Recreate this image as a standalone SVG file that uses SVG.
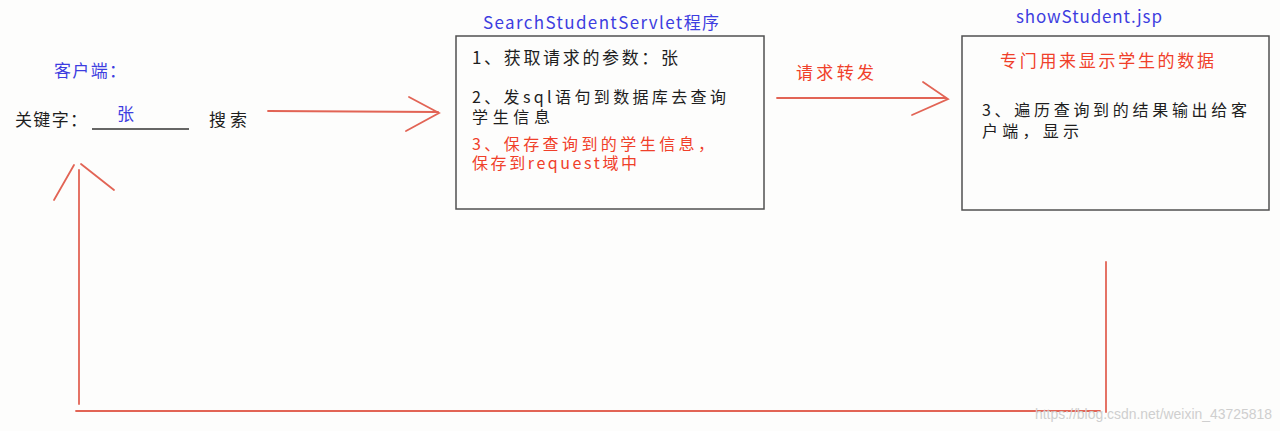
<svg xmlns="http://www.w3.org/2000/svg" width="1280" height="431" viewBox="0 0 1280 431">
<style>
text{font-family:"Noto Sans CJK SC","Liberation Sans",sans-serif;font-size:17px}
.tight{font-size:16px}
.blue{fill:#3d3de0}
.red{fill:#f0402a}
.black{fill:#1e1e1e}
.box{fill:none;stroke:#505050;stroke-width:1.5}
.conn{stroke:#e26455;stroke-width:1.8;fill:none;stroke-linecap:round}
.wm{font-family:"Liberation Sans",sans-serif;font-size:14px;fill:#cfcfcf}
</style>
<rect width="1280" height="431" fill="#fdfdfc"/>
<g id="client">
<text class="blue" x="54" y="77" textLength="72" lengthAdjust="spacing">客户端：</text>
<text class="black" x="15" y="126" textLength="72" lengthAdjust="spacing">关键字：</text>
<line x1="92" y1="129" x2="189" y2="129" stroke="#333" stroke-width="1.5"/>
<text class="blue" x="117" y="120">张</text>
<text class="black" x="209" y="126" textLength="38" lengthAdjust="spacing">搜索</text>
</g>
<g id="servlet">
<text class="blue" x="483" y="29" textLength="236" lengthAdjust="spacing">SearchStudentServlet程序</text>
<rect class="box" x="456" y="36" width="308" height="173"/>
<text class="black" x="472" y="64" textLength="206" lengthAdjust="spacing">1、获取请求的参数：张</text>
<text class="black tight" x="472" y="103" textLength="254" lengthAdjust="spacing">2、发sql语句到数据库去查询</text>
<text class="black tight" x="472" y="123" textLength="78" lengthAdjust="spacing">学生信息</text>
<text class="red tight" x="472" y="150" textLength="242" lengthAdjust="spacing">3、保存查询到的学生信息，</text>
<text class="red tight" x="472" y="169" textLength="165" lengthAdjust="spacing">保存到request域中</text>
</g>
<g id="jsp">
<text class="blue" x="1016" y="23" textLength="146" lengthAdjust="spacing">showStudent.jsp</text>
<rect class="box" x="962" y="36" width="307" height="174"/>
<text class="red" x="1000" y="67" textLength="214" lengthAdjust="spacing">专门用来显示学生的数据</text>
<text class="black tight" x="982" y="116" textLength="265" lengthAdjust="spacing">3、遍历查询到的结果输出给客</text>
<text class="black tight" x="982" y="137" textLength="97" lengthAdjust="spacing">户端，显示</text>
</g>
<g id="connectors">
<g id="search-request">
<line class="conn" x1="268" y1="111" x2="438" y2="112"/>
<polyline class="conn" points="409,97 439,113 406,131"/>
</g>
<g id="forward">
<text class="red" x="796" y="79" textLength="78" lengthAdjust="spacing">请求转发</text>
<line class="conn" x1="777" y1="98" x2="946" y2="98"/>
<polyline class="conn" points="923,82 948,99 912,115"/>
</g>
<g id="response">
<line class="conn" x1="1106" y1="262" x2="1106" y2="412"/>
<line class="conn" x1="76" y1="411" x2="1100" y2="411" stroke-width="2.5" stroke="#dc7a6e"/>
<line class="conn" x1="79" y1="404" x2="79" y2="170"/>
<line class="conn" x1="54" y1="200" x2="74" y2="165"/>
<line class="conn" x1="81" y1="164" x2="114" y2="190"/>
</g>
</g>
<text class="wm" x="1035" y="419" textLength="237" lengthAdjust="spacingAndGlyphs">https://blog.csdn.net/weixin_43725818</text>
</svg>
